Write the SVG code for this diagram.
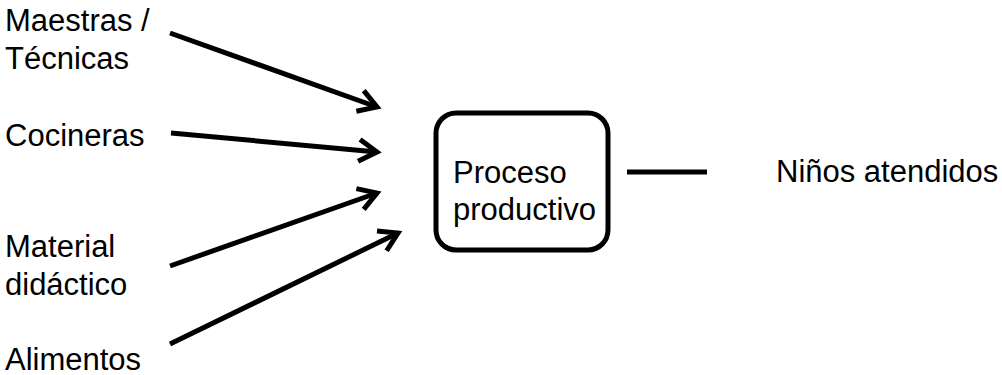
<svg xmlns="http://www.w3.org/2000/svg" width="1002" height="375" viewBox="0 0 1002 375">
  <style>
    .lbl { font-family: "Liberation Sans", Arial, sans-serif; font-size: 31px; fill: #000; }
    .conn { stroke: #000; stroke-width: 5; fill: none; marker-end: url(#chev); }
  </style>
  <defs>
    <marker id="chev" markerUnits="userSpaceOnUse" markerWidth="40" markerHeight="40" refX="0" refY="0" orient="auto" style="overflow:visible">
      <path d="M-18,-11 L0,0 L-18,11" fill="none" stroke="#000" stroke-width="5" stroke-linejoin="miter"/>
    </marker>
  </defs>
  <rect width="1002" height="375" fill="#fff"/>

  <g id="maestras">
    <text class="lbl" x="5" y="31">Maestras /</text>
    <text class="lbl" x="5" y="69">Técnicas</text>
  </g>
  <g id="cocineras">
    <text class="lbl" x="5" y="146">Cocineras</text>
  </g>
  <g id="material">
    <text class="lbl" x="5" y="257">Material</text>
    <text class="lbl" x="5" y="295">didáctico</text>
  </g>
  <g id="alimentos">
    <text class="lbl" x="5" y="370">Alimentos</text>
  </g>
  <g id="proceso">
    <rect x="436" y="113" width="172" height="137" rx="20" ry="20" fill="#fff" stroke="#000" stroke-width="5"/>
    <text class="lbl" x="453" y="183">Proceso</text>
    <text class="lbl" x="453" y="220">productivo</text>
  </g>
  <g id="ninos">
    <text class="lbl" x="776" y="182">Niños atendidos</text>
  </g>

  <g id="connectors">
    <line class="conn" x1="170" y1="33" x2="377" y2="107"/>
    <line class="conn" x1="171" y1="133" x2="377" y2="152"/>
    <line class="conn" x1="170" y1="266" x2="377" y2="193"/>
    <line class="conn" x1="170" y1="344" x2="398" y2="233"/>
    <line x1="627" y1="172" x2="707" y2="172" stroke="#000" stroke-width="5"/>
  </g>
</svg>
